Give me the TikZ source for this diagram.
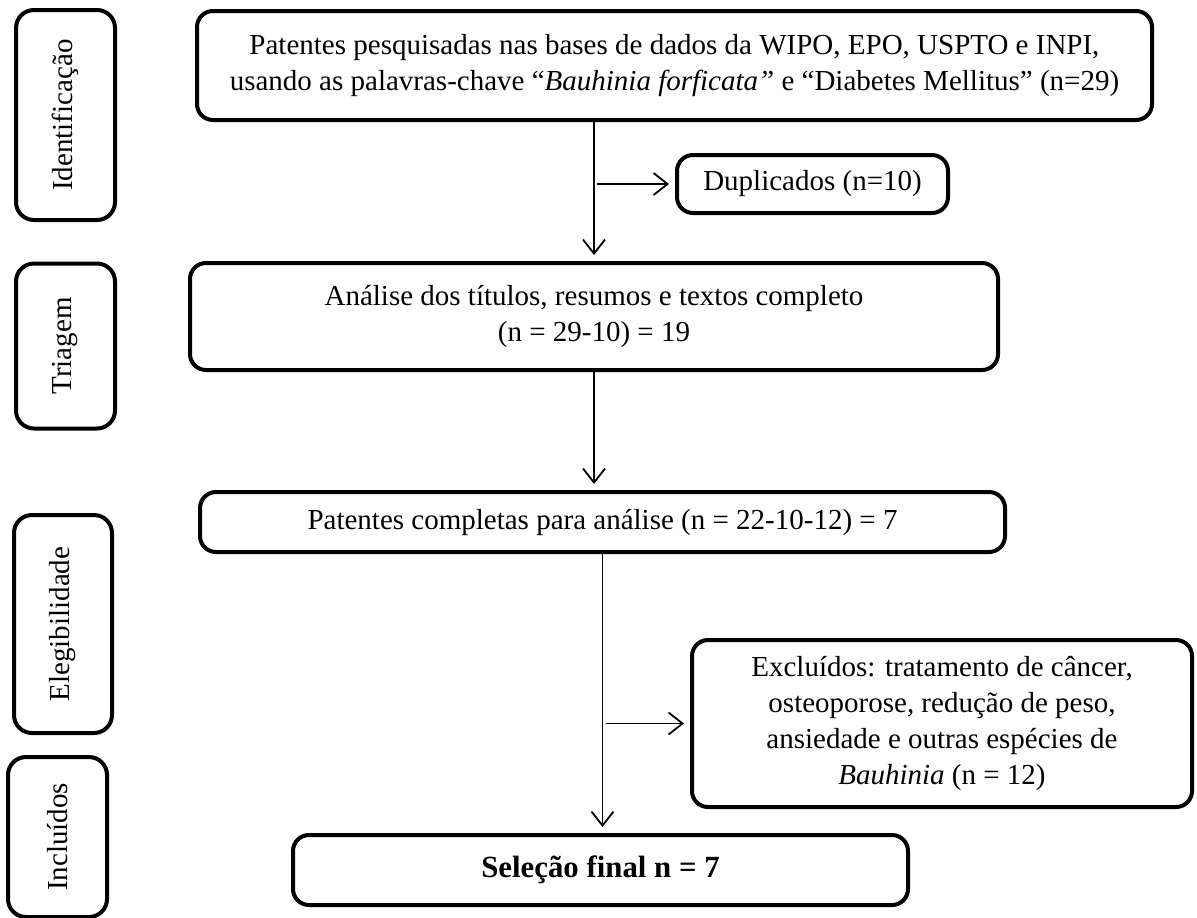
\documentclass[tikz,border=0pt]{standalone}
\usepackage{fontspec}
\setmainfont{Liberation Serif}
\usetikzlibrary{arrows.meta,positioning}

\begin{document}
\begin{tikzpicture}[%
    x=0.5pt, y=-0.5pt,
    >={Straight Barb[length=7pt,width=11pt]},
    every node/.style={font=\fontsize{14.5}{18}\selectfont},
    stagebox/.style={draw, line width=2pt, rounded corners=8pt, align=center, inner sep=0pt},
    phasebox/.style={draw, line width=2pt, rounded corners=9pt, inner sep=0pt, rotate=90},
    flow/.style={->, line width=0.9pt, shorten >=3pt}
    ]

    \useasboundingbox (0,0) rectangle (1197,917);

    \node[phasebox, minimum width=105pt, minimum height=49.5pt] (ident) at (65.5,115) {Identificação};
    \node[phasebox, minimum width=82.5pt, minimum height=49.5pt] (triag) at (65.5,346) {Triagem};
    \node[phasebox, minimum width=109pt, minimum height=49pt] (eleg) at (63,624) {Elegibilidade};
    \node[phasebox, minimum width=80pt, minimum height=49.5pt] (incl) at (57.5,837) {Incluídos};

    \node[stagebox, minimum width=477.5pt, minimum height=54.5pt] (search) at (674.5,65.5)
        {Patentes pesquisadas nas bases de dados da WIPO, EPO, USPTO e INPI,\\
         usando as palavras-chave “\textit{Bauhinia forficata”} e “Diabetes Mellitus” (n=29)};
    \node[stagebox, minimum width=135.5pt, minimum height=29pt] (dup) at (812.5,184) {Duplicados (n=10)};
    \node[stagebox, minimum width=404pt, minimum height=53.5pt] (screen) at (594,316.5)
        {Análise dos títulos, resumos e textos completo\\ (n = 29-10) = 19};
    \node[stagebox, minimum width=402.5pt, minimum height=30pt] (full) at (602.5,522)
        {Patentes completas para análise (n = 22-10-12) = 7};
    \node[stagebox, minimum width=250pt, minimum height=83.5pt] (excl) at (942,723.5)
        {Excluídos: tratamento de câncer,\\ osteoporose, redução de peso,\\
         ansiedade e outras espécies de\\ \textit{Bauhinia} (n = 12)};
    \node[stagebox, minimum width=307.5pt, minimum height=35pt, font=\fontsize{15.4}{18}\selectfont\bfseries]
        (final) at (600.5,870) {Seleção final n = 7};

    \draw[flow] (screen.north |- search.south) -- (screen.north);
    \draw[flow] (screen.north |- dup.west) ++(3,0) -- (dup.west);
    \draw[flow] (screen.south) -- (screen.south |- full.north);
    \draw[flow] (full.south) -- (full.south |- final.north);
    \draw[flow] (full.south |- excl.west) ++(3,0) -- (excl.west);

\end{tikzpicture}
\end{document}
